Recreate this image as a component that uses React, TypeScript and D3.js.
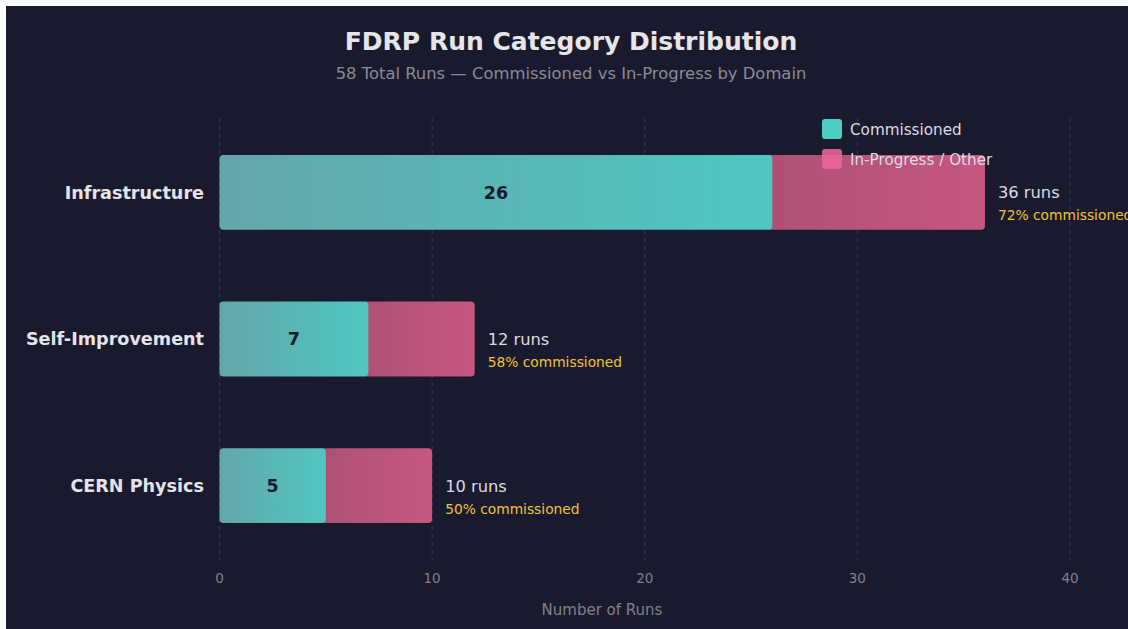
import { scaleBand, scaleLinear } from 'd3'

const WIDTH = 1128
const HEIGHT = 629

const categories = ['Infrastructure', 'Self-Improvement', 'CERN Physics']
const commissioned = [26, 7, 5]
const totals = [36, 12, 10]
const xTicks = [0, 10, 20, 30, 40]
const legendLabels = ['Commissioned', 'In-Progress / Other']

const BG = '#1a1a2e'
const FONT = '"DejaVu Sans", Verdana, sans-serif'

export default function App() {
  const x = scaleLinear().domain([0, 40]).range([219.5, 1070])
  const y = scaleBand<string>()
    .domain(categories)
    .range([119, 559])
    .paddingInner(0.49)
    .paddingOuter(0.245)
  const bw = y.bandwidth()

  return (
    <svg
      width={WIDTH}
      height={HEIGHT}
      style={{ position: 'absolute', left: 0, top: 0, fontFamily: FONT }}
    >
      <defs>
        <linearGradient id="tealGrad" x1="0" x2="1" y1="0" y2="0">
          <stop offset="0%" stopColor="#63a6a9" />
          <stop offset="100%" stopColor="#50c7c0" />
        </linearGradient>
        <linearGradient id="pinkGrad" x1="0" x2="1" y1="0" y2="0">
          <stop offset="0%" stopColor="#ad5075" />
          <stop offset="100%" stopColor="#c5577f" />
        </linearGradient>
      </defs>
      <rect x={6} y={6} width={1130} height={630} fill={BG} />

      <text x={571} y={50} textAnchor="middle" fill="#e6e6ea" fontSize={25} fontWeight="bold">
        FDRP Run Category Distribution
      </text>
      <text x={571} y={79} textAnchor="middle" fill="#8a8a96" fontSize={16.4}>
        58 Total Runs — Commissioned vs In-Progress by Domain
      </text>

      {xTicks.map((t) => (
        <g key={t}>
          <line
            x1={x(t)}
            x2={x(t)}
            y1={118}
            y2={560}
            stroke="#34345a"
            strokeWidth={1}
            strokeDasharray="4 4"
          />
          <text x={x(t)} y={583} textAnchor="middle" fill="#80808c" fontSize={13.5}>
            {t}
          </text>
        </g>
      ))}
      <text x={602} y={615} textAnchor="middle" fill="#80808c" fontSize={15}>
        Number of Runs
      </text>

      {categories.map((c, i) => {
        const y0 = y(c) ?? 0
        const cy = y0 + bw / 2
        const pct = Math.round((commissioned[i] / totals[i]) * 100)
        return (
          <g key={c}>
            <rect
              x={x(commissioned[i]) - 6}
              y={y0}
              width={x(totals[i]) - x(commissioned[i]) + 6}
              height={bw}
              rx={4}
              fill="url(#pinkGrad)"
            />
            <rect
              x={x(0)}
              y={y0}
              width={x(commissioned[i]) - x(0)}
              height={bw}
              rx={4}
              fill="url(#tealGrad)"
            />
            <text
              x={(x(0) + x(commissioned[i])) / 2}
              y={cy}
              dy="0.36em"
              textAnchor="middle"
              fill={BG}
              fontSize={17.5}
              fontWeight="bold"
            >
              {commissioned[i]}
            </text>
            <text
              x={204}
              y={cy}
              dy="0.36em"
              textAnchor="end"
              fill="#e4e4ea"
              fontSize={17.6}
              fontWeight="bold"
            >
              {c}
            </text>
            <text x={x(totals[i]) + 13} y={cy + 6} fill="#dcdce2" fontSize={16.3}>
              {totals[i]} runs
            </text>
            <text x={x(totals[i]) + 13} y={cy + 28} fill="#f2c230" fontSize={13.8}>
              {pct}% commissioned
            </text>
          </g>
        )
      })}

      {legendLabels.map((l, i) => (
        <g key={l} transform={`translate(822, ${119 + i * 30})`}>
          <rect width={20} height={20} rx={3} fill={i === 0 ? '#4ecdc4' : '#e8649a'} fillOpacity={i === 0 ? 1 : 0.9} />
          <text x={28} y={11} dy="0.36em" fill="#dcdce4" fontSize={15.2}>
            {l}
          </text>
        </g>
      ))}
    </svg>
  )
}
